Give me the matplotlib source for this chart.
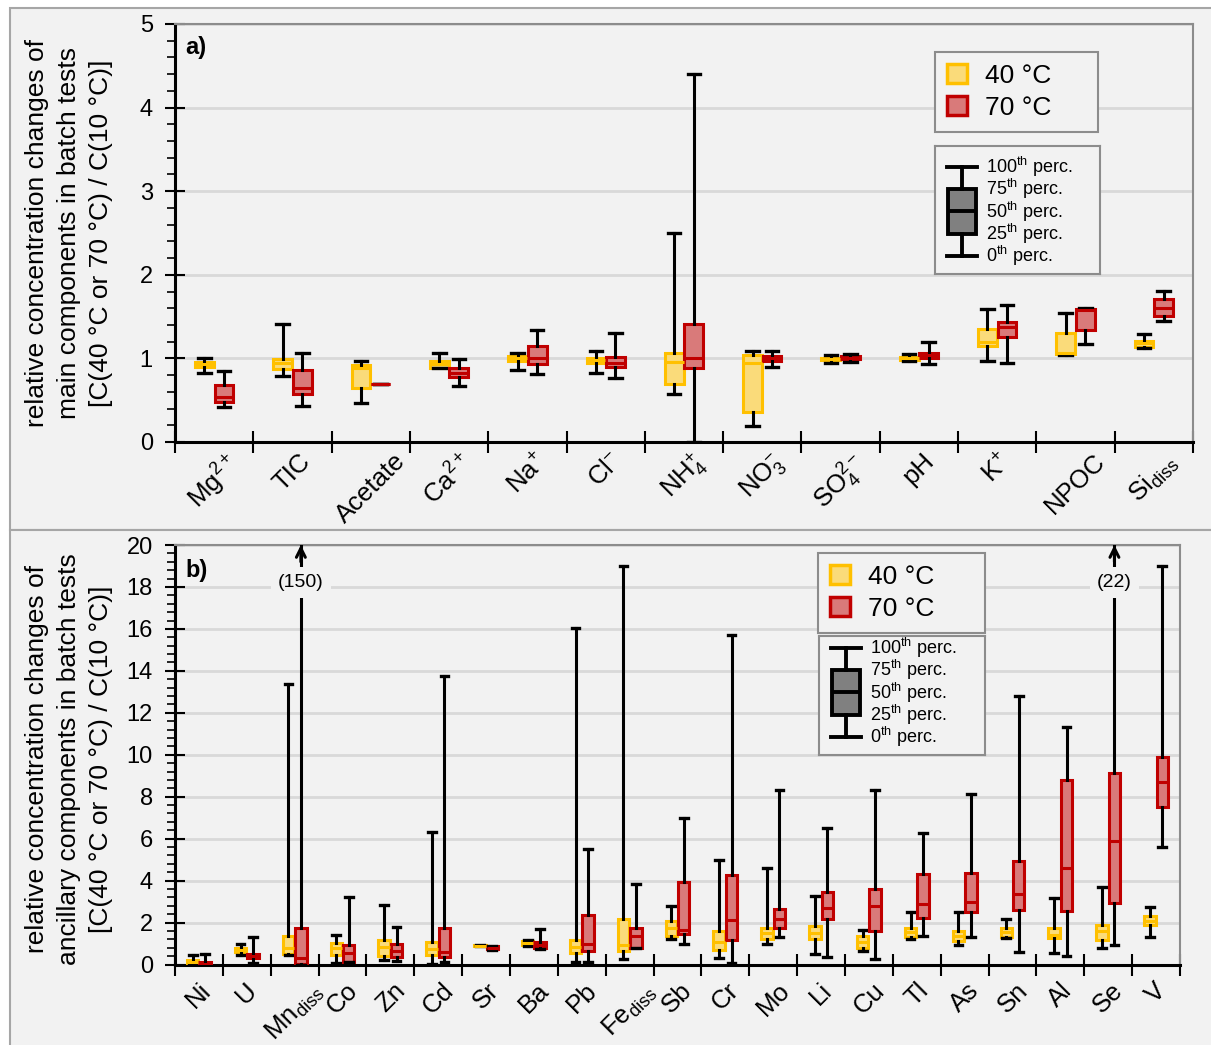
import matplotlib.pyplot as plt
from matplotlib.patches import Patch, Rectangle
from matplotlib.ticker import MultipleLocator

plt.rcParams['font.family'] = ['Liberation Sans', 'DejaVu Sans']
plt.rcParams['mathtext.default'] = 'regular'

# ---- panel a: main components ----
main_labels = ['Mg$^{2+}$', 'TIC', 'Acetate', 'Ca$^{2+}$', 'Na$^{+}$', 'Cl$^{-}$', 'NH$_4^{+}$',
               'NO$_3^{-}$', 'SO$_4^{2-}$', 'pH', 'K$^{+}$', 'NPOC', 'Si$_{diss}$']
a40_min = [0.83, 0.79, 0.47, 0.885, 0.86, 0.82, 0.58, 0.195, 0.95, 0.97, 0.97, 1.04, 1.13]
a40_q1 = [0.90, 0.87, 0.65, 0.89, 0.97, 0.94, 0.69, 0.36, 0.98, 0.98, 1.15, 1.05, 1.14]
a40_med = [0.93, 0.94, 0.88, 0.93, 1.00, 0.98, 0.96, 0.95, 0.99, 1.00, 1.20, 1.07, 1.18]
a40_q3 = [0.96, 0.99, 0.92, 0.97, 1.03, 1.01, 1.06, 1.04, 1.01, 1.02, 1.35, 1.30, 1.21]
a40_max = [1.01, 1.41, 0.97, 1.06, 1.06, 1.09, 2.50, 1.09, 1.04, 1.05, 1.59, 1.54, 1.29]
a70_min = [0.42, 0.43, 0.69, 0.67, 0.81, 0.77, 0.0, 0.90, 0.96, 0.93, 0.95, 1.17, 1.45]
a70_q1 = [0.48, 0.57, 0.69, 0.78, 0.93, 0.90, 0.88, 0.97, 0.99, 1.01, 1.26, 1.34, 1.51]
a70_med = [0.54, 0.64, 0.69, 0.83, 1.00, 0.95, 1.01, 1.00, 1.01, 1.04, 1.37, 1.58, 1.60]
a70_q3 = [0.68, 0.86, 0.69, 0.88, 1.15, 1.02, 1.41, 1.03, 1.03, 1.07, 1.44, 1.59, 1.71]
a70_max = [0.85, 1.06, 0.69, 0.99, 1.34, 1.30, 4.40, 1.09, 1.05, 1.20, 1.64, 1.60, 1.81]

# ---- panel b: ancillary components ----
anc_labels = ['Ni', 'U', 'Mn$_{diss}$', 'Co', 'Zn', 'Cd', 'Sr', 'Ba', 'Pb', 'Fe$_{diss}$', 'Sb',
              'Cr', 'Mo', 'Li', 'Cu', 'Tl', 'As', 'Sn', 'Al', 'Se', 'V']
b40_min = [0.02, 0.44, 0.44, 0.08, 0.20, 0.02, 0.88, 0.89, 0.11, 0.25, 1.20, 0.33, 0.97, 0.52,
           0.63, 1.20, 0.95, 1.24, 0.57, 0.81, 1.29]
b40_q1 = [0.05, 0.60, 0.52, 0.44, 0.40, 0.44, 0.89, 0.95, 0.55, 0.65, 1.35, 0.68, 1.20, 1.20,
          0.81, 1.29, 1.11, 1.32, 1.24, 1.19, 1.87]
b40_med = [0.12, 0.70, 0.81, 0.81, 0.85, 0.76, 0.90, 1.02, 0.84, 0.92, 1.72, 1.08, 1.48, 1.48,
           1.08, 1.56, 1.35, 1.56, 1.43, 1.60, 2.08]
b40_q3 = [0.20, 0.81, 1.35, 1.03, 1.19, 1.05, 0.91, 1.10, 1.16, 2.19, 2.06, 1.59, 1.72, 1.83,
          1.35, 1.76, 1.60, 1.76, 1.76, 1.87, 2.30]
b40_max = [0.45, 0.97, 13.35, 1.40, 2.83, 6.32, 0.92, 1.16, 16.05, 18.99, 2.80, 4.97, 4.62, 3.26,
           1.64, 2.48, 2.51, 2.19, 3.18, 3.70, 2.72]
b70_min = [0.0, 0.08, 0.0, 0.11, 0.17, 0.13, 0.70, 0.72, 0.11, 0.81, 0.97, 0.09, 1.29, 0.36,
           0.24, 1.37, 1.29, 0.60, 0.40, 0.92, 5.58]
b70_q1 = [0.01, 0.29, 0.02, 0.13, 0.36, 0.36, 0.72, 0.81, 0.63, 0.81, 1.44, 1.16, 1.75, 2.15,
          1.60, 2.24, 2.51, 2.62, 2.56, 2.94, 7.52]
b70_med = [0.03, 0.42, 0.33, 0.55, 0.65, 0.60, 0.80, 0.95, 0.97, 1.35, 1.63, 2.11, 2.15, 2.70,
           2.80, 2.88, 2.99, 3.35, 4.61, 5.90, 8.71]
b70_q3 = [0.10, 0.52, 1.72, 0.92, 1.00, 1.75, 0.88, 1.05, 2.35, 1.72, 3.91, 4.26, 2.64, 3.46,
          3.59, 4.31, 4.37, 4.93, 8.79, 9.14, 9.87]
b70_max = [0.49, 1.32, 150.0, 3.20, 1.79, 13.75, 0.90, 1.67, 5.53, 3.86, 6.99, 15.69, 8.31, 6.53,
           8.31, 6.29, 8.12, 12.81, 11.30, 22.0, 18.99]

# values of the outliers written above the plot
off_scale = [('Mn$_{diss}$', 150), ('Se', 22)]

temps = ['40 °C', '70 °C']
schema_vals = [0, 1, 2, 3, 4]
schema_labels = ['0$^{th}$ perc.', '25$^{th}$ perc.', '50$^{th}$ perc.',
                 '75$^{th}$ perc.', '100$^{th}$ perc.']

BG = '#f2f2f2'
YEL_EDGE, YEL_FILL = '#ffc000', '#fadb7a'
RED_EDGE, RED_FILL = '#c00000', '#d97a7a'
FRAME = '#8c8c8c'


def draw_boxes(ax, mins, q1s, meds, q3s, maxs, offset, edge, fill):
    stats = [dict(whislo=a, q1=b, med=c, q3=d, whishi=e)
             for a, b, c, d, e in zip(mins, q1s, meds, q3s, maxs)]
    pos = [i + offset for i in range(len(stats))]
    ax.bxp(stats, positions=pos, widths=0.24, capwidths=0.16, patch_artist=True,
           showfliers=False, manage_ticks=False,
           boxprops=dict(facecolor=fill, edgecolor=edge, linewidth=2.2),
           medianprops=dict(color=edge, linewidth=2.2),
           whiskerprops=dict(color='k', linewidth=2.2),
           capprops=dict(color='k', linewidth=2.4),
           zorder=3)


def style_axes(ax, labels, ymax, major, minor, xmax, xpad):
    n = len(labels)
    ax.set_facecolor(BG)
    ax.set_xlim(-0.5, xmax)
    ax.set_ylim(0, ymax)
    ax.set_xticks([i - 0.5 for i in range(n + 1)])
    ax.set_xticklabels([])
    ax.set_xticks(range(n), labels, minor=True)
    ax.tick_params(axis='x', which='major', direction='inout', length=16, width=1.5)
    ax.tick_params(axis='x', which='minor', length=0, labelsize=18.5, rotation=45, pad=xpad)
    ax.yaxis.set_major_locator(MultipleLocator(major))
    ax.yaxis.set_minor_locator(MultipleLocator(minor))
    ax.tick_params(axis='y', which='major', direction='inout', length=14, width=1.5,
                   labelsize=17, pad=9)
    ax.tick_params(axis='y', which='minor', direction='out', length=6, width=1.2)
    ax.grid(axis='y', color='#d9d9d9', linewidth=2, zorder=0)
    ax.set_axisbelow(True)
    for s in ['left', 'bottom']:
        ax.spines[s].set_linewidth(2.2)
        ax.spines[s].set_color('k')
    for s in ['top', 'right']:
        ax.spines[s].set_linewidth(1.5)
        ax.spines[s].set_color(FRAME)


def add_legends(ax, leg_box, schema_rect, schema_ylim):
    handles = [Patch(facecolor=YEL_FILL, edgecolor=YEL_EDGE, linewidth=2.5),
               Patch(facecolor=RED_FILL, edgecolor=RED_EDGE, linewidth=2.5)]
    leg = ax.legend(handles, temps, loc='upper left', bbox_to_anchor=leg_box, mode='expand',
                    fontsize=19, fancybox=False, framealpha=1, facecolor=BG, edgecolor=FRAME,
                    handlelength=0.75, handleheight=0.75, handletextpad=0.7,
                    labelspacing=0.3, borderpad=0.45, borderaxespad=0)
    leg.get_frame().set_linewidth(1.5)
    ins = ax.inset_axes(schema_rect)
    ins.set_facecolor(BG)
    ins.bxp([dict(whislo=schema_vals[0], q1=schema_vals[1], med=schema_vals[2],
                  q3=schema_vals[3], whishi=schema_vals[4])],
            positions=[0.165], widths=0.17, capwidths=0.18, patch_artist=True,
            showfliers=False, manage_ticks=False,
            boxprops=dict(facecolor='#808080', edgecolor='k', linewidth=2.8),
            medianprops=dict(color='k', linewidth=2.8),
            whiskerprops=dict(color='k', linewidth=2.8),
            capprops=dict(color='k', linewidth=2.8))
    for v, lab in zip(schema_vals, schema_labels):
        ins.text(0.31, v, lab, va='center', fontsize=13)
    ins.set_xlim(0, 1)
    ins.set_ylim(schema_ylim)
    ins.set_xticks([])
    ins.set_yticks([])
    for s in ins.spines.values():
        s.set_color(FRAME)
        s.set_linewidth(1.5)


fig = plt.figure(figsize=(12.11, 10.45), dpi=100, facecolor='white')
fig.add_artist(Rectangle((10 / 1211, 1 - 530 / 1045), 1.0, 522 / 1045, transform=fig.transFigure,
                         facecolor=BG, edgecolor='#a6a6a6', linewidth=1.5, zorder=-2))
fig.add_artist(Rectangle((10 / 1211, -0.01), 1.0, 1 - 530 / 1045 + 0.01,
                         transform=fig.transFigure,
                         facecolor=BG, edgecolor='#a6a6a6', linewidth=1.5, zorder=-2))

ax_a = fig.add_axes([175 / 1211, 1 - 442 / 1045, 1018 / 1211, 418 / 1045])
ax_b = fig.add_axes([175 / 1211, 1 - 964.5 / 1045, 1005 / 1211, 419.5 / 1045])

ylab_a = ('relative concentration changes of\nmain components in batch tests\n'
          '[C(40 °C or 70 °C) / C(10 °C)]')
ylab_b = ('relative concentration changes of\nancillary components in batch tests\n'
          '[C(40 °C or 70 °C) / C(10 °C)]')

# panel a
style_axes(ax_a, main_labels, 5, 1, 0.2, 12.22, 5)
draw_boxes(ax_a, a40_min, a40_q1, a40_med, a40_q3, a40_max, -0.125, YEL_EDGE, YEL_FILL)
draw_boxes(ax_a, a70_min, a70_q1, a70_med, a70_q3, a70_max, 0.125, RED_EDGE, RED_FILL)
ax_a.set_ylabel(ylab_a, fontsize=19, linespacing=1.42)
ax_a.yaxis.set_label_coords(-0.061, 0.5)
ax_a.text(0.01, 0.943, 'a)', transform=ax_a.transAxes, fontsize=17, fontweight='bold',
          va='center')
add_legends(ax_a, (0.7466, 0.933, 0.16, 0.0), [0.7466, 0.402, 0.162, 0.306], (-0.81, 4.94))

# panel b
style_axes(ax_b, anc_labels, 20, 2, 0.4, 20.25, 10)
draw_boxes(ax_b, b40_min, b40_q1, b40_med, b40_q3, b40_max, -0.13, YEL_EDGE, YEL_FILL)
draw_boxes(ax_b, b70_min, b70_q1, b70_med, b70_q3, b70_max, 0.13, RED_EDGE, RED_FILL)
ax_b.set_ylabel(ylab_b, fontsize=19, linespacing=1.42)
ax_b.yaxis.set_label_coords(-0.062, 0.49)
ax_b.text(0.01, 0.94, 'b)', transform=ax_b.transAxes, fontsize=17, fontweight='bold',
          va='center')
for name, val in off_scale:
    x = anc_labels.index(name) + 0.13
    ax_b.annotate('', xy=(x, 20), xytext=(x, 19.2), annotation_clip=False,
                  arrowprops=dict(arrowstyle='->', color='k', lw=2.2, shrinkA=0, shrinkB=0,
                                  mutation_scale=16), zorder=6)
    ax_b.text(x, 18.2, '(%d)' % val, ha='center', va='center', fontsize=14, zorder=6,
              bbox=dict(facecolor=BG, edgecolor='none', pad=5))
add_legends(ax_b, (0.64, 0.981, 0.166, 0.0), [0.6408, 0.4994, 0.165, 0.2837], (-0.81, 4.54))

fig.savefig('out.png', dpi=100, facecolor='white')
